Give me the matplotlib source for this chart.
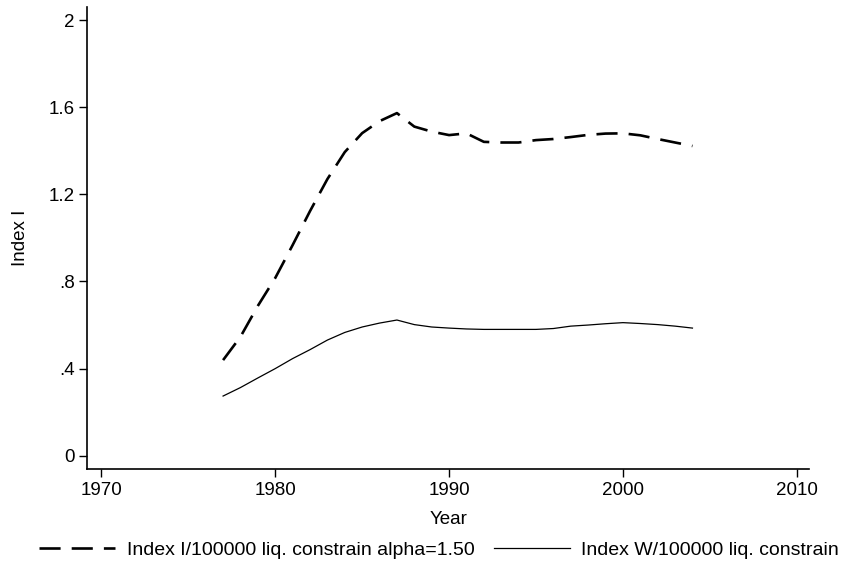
import matplotlib
matplotlib.use("Agg")
import matplotlib.pyplot as plt
from matplotlib.ticker import FuncFormatter

plt.rcParams['font.family'] = ['Liberation Sans', 'DejaVu Sans']

years = list(range(1977, 2005))
index_i = [0.439, 0.546, 0.688, 0.816, 0.967, 1.123, 1.270, 1.394, 1.481, 1.536,
           1.573, 1.511, 1.488, 1.472, 1.480, 1.441, 1.438, 1.438, 1.449, 1.454,
           1.463, 1.473, 1.479, 1.480, 1.471, 1.454, 1.438, 1.422]
index_w = [0.274, 0.313, 0.357, 0.400, 0.446, 0.487, 0.531, 0.566, 0.591, 0.609,
           0.623, 0.602, 0.591, 0.586, 0.582, 0.580, 0.580, 0.580, 0.580, 0.584,
           0.595, 0.600, 0.606, 0.611, 0.607, 0.602, 0.595, 0.586]
label_i = "Index I/100000 liq. constrain alpha=1.50"
label_w = "Index W/100000 liq. constrain"
x_ticks = [1970, 1980, 1990, 2000, 2010]
y_ticks = [0, 0.4, 0.8, 1.2, 1.6, 2.0]

fig = plt.figure(figsize=(8.46, 5.66), dpi=100)
ax = fig.add_axes([0.1032, 0.1708, 0.8534, 0.8168])

ax.plot(years, index_i, color='black', lw=1.9, dashes=(8, 4.2),
        solid_capstyle='butt', dash_capstyle='butt', label=label_i)
ax.plot(years, index_w, color='black', lw=0.9, label=label_w)

ax.set_xlim(1969.19, 2010.72)
ax.set_ylim(-0.0624, 2.06)
ax.set_xticks(x_ticks)
ax.set_yticks(y_ticks)


def fmt(v, pos):
    s = ('%g' % round(v, 2))
    if s.startswith('0.'):
        s = s[1:]
    return s


ax.yaxis.set_major_formatter(FuncFormatter(fmt))
ax.tick_params(axis='both', direction='out', length=6, width=1, labelsize=13.5,
               color='black', labelcolor='black')
ax.tick_params(axis='y', pad=3)
ax.tick_params(axis='x', pad=3)

for side in ('top', 'right'):
    ax.spines[side].set_visible(False)
for side in ('left', 'bottom'):
    ax.spines[side].set_linewidth(1.2)
    ax.spines[side].set_color('black')

ax.set_xlabel("Year", fontsize=13.5, labelpad=9)
ax.set_ylabel("Index I", fontsize=13.5, labelpad=14)

fig.legend(loc='lower center', bbox_to_anchor=(0.519, -0.018), ncol=2,
           frameon=False, fontsize=14, handlelength=3.9, handletextpad=0.6,
           columnspacing=1.0)

fig.savefig("out.png", dpi=100, facecolor='white')
